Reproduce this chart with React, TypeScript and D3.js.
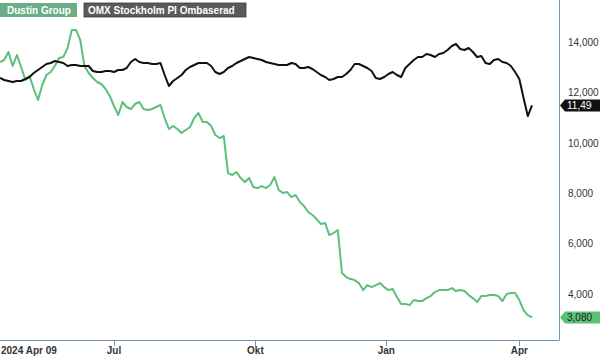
import React from "react";
import * as d3 from "d3";

// Trading-day index (2 trading days between points), 2024-04-09 .. 2025-04-09
const DAY_STEP = 2;
const LAST_DAY = 252;

const dustinGroup = [
  13219, 13298, 13616, 13060, 13496, 13020, 12504, 12663, 12147, 11710,
  12306, 12703, 12822, 13060, 13377, 13417, 13774, 14489, 14489, 14092,
  13060, 12782, 12583, 12425, 12345, 12147, 11869, 11472, 11115, 11631,
  11432, 11353, 11551, 11631, 11353, 11313, 11353, 11432, 11512, 10995,
  10559, 10678, 10559, 10400, 10519, 10638, 10995, 11194, 10837, 10837,
  10678, 10321, 10201, 10281, 8812, 8733, 8852, 8613, 8455, 8613,
  8256, 8216, 8296, 8216, 8336, 8653, 8137, 8018, 8058, 7859,
  7938, 7661, 7502, 7264, 7145, 6986, 6787, 6827, 6351, 6430,
  6549, 4842, 4683, 4604, 4564, 4445, 4167, 4366, 4286, 4366,
  4445, 4286, 4167, 4207, 3889, 3611, 3611, 3572, 3770, 3730,
  3730, 3849, 3929, 4088, 4167, 4167, 4167, 4246, 4127, 4167,
  4127, 3969, 3849, 3691, 3929, 3929, 3969, 3969, 3929, 3730,
  4008, 4048, 4048, 3770, 3373, 3175, 3080,
];

const omxRebased = [
  12583, 12504, 12464, 12425, 12464, 12464, 12544, 12623, 12782, 12901,
  13020, 13139, 13179, 13258, 13219, 13179, 13060, 13100, 13100, 13060,
  13060, 13060, 12861, 12822, 12822, 12861, 12861, 12822, 12901, 12901,
  12980, 13219, 13338, 13219, 13179, 13179, 13139, 13139, 13179, 12703,
  12266, 12464, 12583, 12703, 12901, 13020, 13100, 13179, 13179, 13179,
  13060, 12822, 12742, 12822, 12980, 13060, 13179, 13258, 13338, 13417,
  13377, 13338, 13298, 13219, 13179, 13139, 13100, 13100, 13100, 13179,
  13139, 12980, 12980, 13020, 12941, 12822, 12703, 12623, 12504, 12544,
  12623, 12623, 12742, 12901, 13139, 13139, 13060, 12980, 12861, 12583,
  12544, 12623, 12742, 12822, 12703, 12623, 12980, 13139, 13298, 13417,
  13417, 13536, 13496, 13417, 13536, 13576, 13695, 13854, 13933, 13735,
  13695, 13774, 13616, 13417, 13457, 13179, 13139, 13298, 13338, 13219,
  13179, 13060, 12822, 12544, 11789, 11075, 11496,
];

const xTickDays = [54, 121, 183, 246];
const xTickLabels = ["Jul", "Okt", "Jan", "Apr"];
const startLabel = "2024 Apr 09";
const yTicks = [4000, 6000, 8000, 10000, 12000, 14000];
const seriesNames = ["Dustin Group", "OMX Stockholm PI Ombaserad"];

const W = 600;
const H = 358;
const plotRight = 559;
const plotBottom = 340;
const FONT = "'Liberation Sans', Arial, sans-serif";
const GREEN = "#5cc078";
const AXIS = "#6f95b5";

export default function App() {
  const x = d3.scaleLinear().domain([0, LAST_DAY]).range([0, 532]);
  const y = d3.scaleLinear().domain([2186, 15679]).range([plotBottom, 0]);
  const line = d3
    .line<number>()
    .x((_, i) => x(i * DAY_STEP))
    .y((d) => y(d));
  const fmt = d3.format(",");

  const lastG = dustinGroup[dustinGroup.length - 1];
  const lastO = omxRebased[omxRebased.length - 1];

  const tag = (cy: number) =>
    `M${plotRight + 1},${cy} L${plotRight + 6},${cy - 6} L${W},${cy - 6} L${W},${cy + 6} L${plotRight + 6},${cy + 6} Z`;

  return (
    <svg
      width={W}
      height={H}
      style={{ position: "absolute", left: 0, top: 0, background: "#fff" }}
      fontFamily={FONT}
    >
      <defs>
        <clipPath id="lblclip">
          <rect x={plotRight} y={0} width={33} height={H} />
        </clipPath>
      </defs>
      {/* legend */}
      <rect x={0} y={3} width={77} height={14} fill="#6aaf84" />
      <text x={7} y={14} fontSize={10} fontWeight="bold" fill="#fff">
        {seriesNames[0]}
      </text>
      <rect x={84} y={3} width={162} height={14} fill="#5a5a5a" stroke="#3a3a3a" strokeWidth={0.8} />
      <text x={88} y={14} fontSize={10} fontWeight="bold" fill="#fff">
        {seriesNames[1]}
      </text>

      {/* lines */}
      <path d={line(dustinGroup) || ""} fill="none" stroke={GREEN} strokeWidth={2} strokeLinejoin="round" />
      <path d={line(omxRebased) || ""} fill="none" stroke="#111" strokeWidth={2} strokeLinejoin="round" />

      {/* axes */}
      <line x1={plotRight + 0.5} x2={plotRight + 0.5} y1={0} y2={plotBottom} stroke={AXIS} strokeWidth={1} />
      <line x1={0} x2={plotRight + 0.5} y1={plotBottom + 0.5} y2={plotBottom + 0.5} stroke={AXIS} strokeWidth={1} />
      {xTickDays.map((d, i) => (
        <g key={i}>
          <line x1={Math.round(x(d)) + 0.5} x2={Math.round(x(d)) + 0.5} y1={plotBottom} y2={plotBottom + 6} stroke={AXIS} />
          <text x={x(d)} y={354} fontSize={10} fontWeight="bold" fill="#333" textAnchor="middle">
            {xTickLabels[i]}
          </text>
        </g>
      ))}
      <text x={1} y={354} fontSize={10} fontWeight="bold" fill="#333">
        {startLabel}
      </text>
      {yTicks.map((t) => (
        <text key={t} x={568} y={y(t)} dy="0.35em" fontSize={10} fill="#333">
          {fmt(t)}
        </text>
      ))}

      {/* last value tags */}
      <path d={tag(y(lastO))} fill="#111" />
      <text x={567} y={y(lastO)} dy="0.35em" fontSize={10} fill="#fff" clipPath="url(#lblclip)">
        {fmt(lastO)}
      </text>
      <path d={tag(y(lastG))} fill={GREEN} />
      <text x={567} y={y(lastG)} dy="0.35em" fontSize={10} fill="#222">
        {fmt(lastG)}
      </text>
    </svg>
  );
}
